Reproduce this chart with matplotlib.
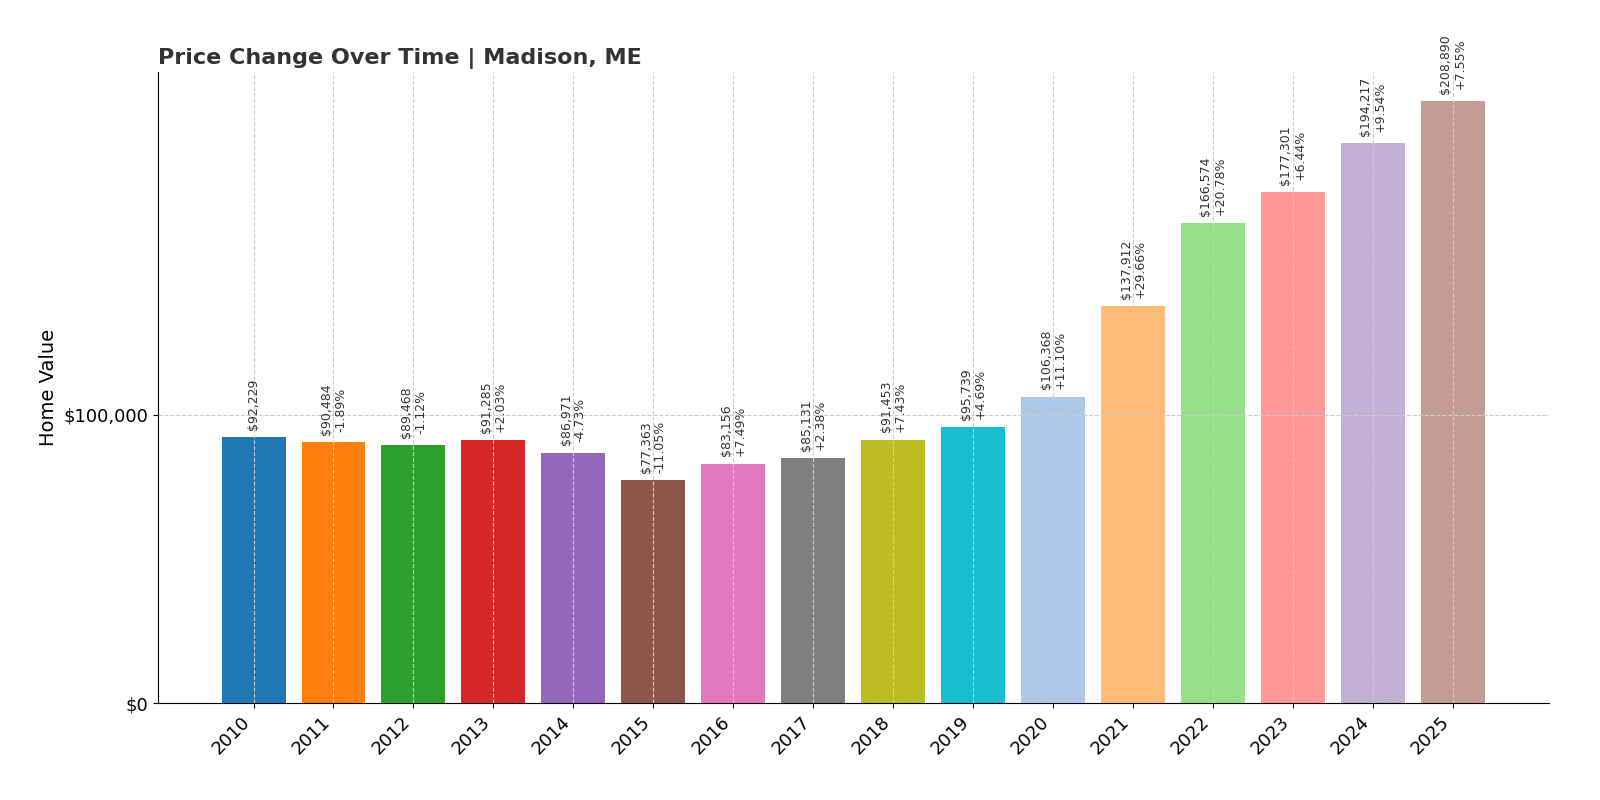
import matplotlib
matplotlib.use("Agg")
import matplotlib.pyplot as plt
from matplotlib.ticker import FuncFormatter

years = list(range(2010, 2026))
values = [92229, 90484, 89468, 91285, 86971, 77363, 83156, 85131, 91453, 95739,
          106368, 137912, 166574, 177301, 194217, 208890]
changes = [None, "-1.89%", "-1.12%", "+2.03%", "-4.73%", "-11.05%", "+7.49%", "+2.38%",
           "+7.43%", "+4.69%", "+11.10%", "+29.66%", "+20.78%", "+6.44%", "+9.54%", "+7.55%"]
colors = ["#1f77b4", "#ff7f0e", "#2ca02c", "#d62728", "#9467bd", "#8c564b", "#e377c2",
          "#7f7f7f", "#bcbd22", "#17becf", "#aec7e8", "#ffbb78", "#98df8a", "#ff9896",
          "#c5b0d5", "#c49c94"]

fig = plt.figure(figsize=(16, 8), dpi=100)
ax = fig.add_axes([0.099, 0.121, 0.869, 0.789])
ax.bar(years, values, width=0.8, color=colors, zorder=2)
for y, v, c in zip(years, values, changes):
    txt = f"${v:,}" if c is None else f"${v:,}\n{c}"
    ax.text(y, v + 2500, txt, rotation=90, ha="center", va="bottom", fontsize=9,
            color="#333333", linespacing=1.1)
ax.set_xlim(2008.81, 2026.2)
ax.set_ylim(0, 219000)
ax.set_yticks([0, 100000])
ax.yaxis.set_major_formatter(FuncFormatter(lambda v, p: f"${v:,.0f}"))
ax.set_xticks(years)
ax.set_xticklabels([str(y) for y in years], rotation=45, ha="right", fontsize=13)
ax.tick_params(axis="y", labelsize=13)
ax.grid(True, linestyle="--", color="#cccccc", linewidth=0.8, zorder=3)
ax.set_axisbelow(False)
for s in ["top", "right"]:
    ax.spines[s].set_visible(False)
ax.set_ylabel("Home Value", fontsize=14)
ax.set_title("Price Change Over Time | Madison, ME", loc="left", fontsize=16,
             fontweight="bold", color="#333333")
fig.savefig("out.png", dpi=100)
